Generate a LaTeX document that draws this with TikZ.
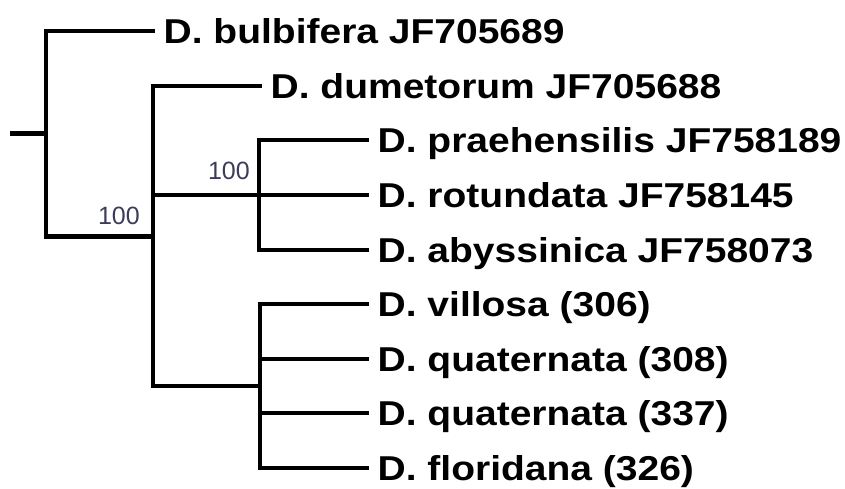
\documentclass[tikz,border=0pt]{standalone}
\usepackage{fontspec}
\setmainfont{Liberation Sans}
\newfontfamily\leaffont{Liberation Sans}[FakeStretch=1.13]
\usepackage{xcolor}
\definecolor{cBoot}{HTML}{3C3C5A}
\usepackage{tikz}
\tikzset{
  branch/.style = {line width=4.5pt, black},
  leaf/.style   = {anchor=west, inner xsep=8.5pt, inner ysep=0pt,
                   text height=24.5pt, text depth=0pt,
                   font=\leaffont\bfseries\fontsize{34.5}{41}\selectfont},
  boot/.style   = {anchor=base east, inner sep=0pt, text=cBoot,
                   font=\fontsize{25}{30}\selectfont},
}

\begin{document}
\begin{tikzpicture}[x=1pt, y=-1pt]

  \useasboundingbox (0,0) rectangle (845,489);

  %% Internal nodes
  \coordinate (r)  at (10,133.5);
  \coordinate (n0) at (46,133.5);
  \coordinate (n1) at (153,236.5);
  \coordinate (n2) at (259,195);
  \coordinate (n3) at (260,386);

  %% Leaves
  \node[leaf] (bul) at (155,31)  {D. bulbifera JF705689};
  \node[leaf] (dum) at (262,86)  {D. dumetorum JF705688};
  \node[leaf] (pra) at (369,140) {D. praehensilis JF758189};
  \node[leaf] (rot) at (369,195) {D. rotundata JF758145};
  \node[leaf] (aby) at (369,250) {D. abyssinica JF758073};
  \node[leaf] (vil) at (369,304) {D. villosa (306)};
  \node[leaf] (qu1) at (369,359) {D. quaternata (308)};
  \node[leaf] (qu2) at (369,413) {D. quaternata (337)};
  \node[leaf] (flo) at (369,468) {D. floridana (326)};

  %% Bootstrap values
  \node[boot] (b1) at (140,224) {100};
  \node[boot] (b2) at (250,179) {100};

  %% Branches
  \draw[branch] (r) -- (n0);
  \draw[branch] (n0) |- (bul.west);
  \draw[branch] (n0) |- (n1);
  \draw[branch] (n1) |- (dum.west);
  \draw[branch] (n1) |- (n2);
  \draw[branch] (n1) |- (n3);
  \draw[branch] (n2) |- (pra.west);
  \draw[branch] (n2) -- (rot.west);
  \draw[branch] (n2) |- (aby.west);
  \draw[branch] (n3) |- (vil.west);
  \draw[branch] (n3) |- (qu1.west);
  \draw[branch] (n3) |- (qu2.west);
  \draw[branch] (n3) |- (flo.west);

\end{tikzpicture}
\end{document}
